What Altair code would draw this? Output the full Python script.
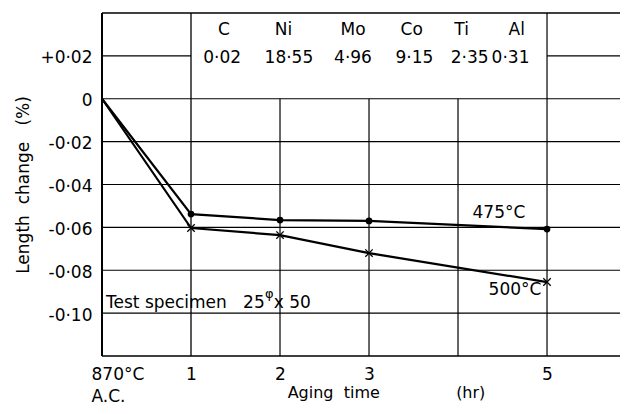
import altair as alt
import pandas as pd

# ---- data ----
times = [0, 1, 2, 3, 5]
len_475 = [0.0, -0.0538, -0.0566, -0.0570, -0.0608]
len_500 = [0.0, -0.0603, -0.0636, -0.0720, -0.0855]
series_names = ["475°C", "500°C"]

elements = ["C", "Ni", "Mo", "Co", "Ti", "Al"]
contents = ["0·02", "18·55", "4·96", "9·15", "2·35", "0·31"]

x_tick_values = [0, 1, 2, 3, 5]
x_tick_labels = ["870°C", "1", "2", "3", "5"]
y_tick_values = [0.02, 0, -0.02, -0.04, -0.06, -0.08, -0.10]
y_tick_labels = ["+0·02", "0", "-0·02", "-0·04", "-0·06", "-0·08", "-0·10"]

# ---- layout ----
FONT = "DejaVu Sans"
XMAX = 5.82
xs = alt.Scale(domain=[0, XMAX], nice=False, zero=False)
ys = alt.Scale(domain=[-0.12, 0.04], nice=False, zero=False)

# tick label expressions built from the lists
y_expr = "''"
for v, t in reversed(list(zip(y_tick_values, y_tick_labels))):
    y_expr = f"abs(datum.value - ({v})) < 1e-9 ? '{t}' : " + y_expr
x_expr = "datum.label"
for v, t in reversed(list(zip(x_tick_values, x_tick_labels))):
    if v == 0:
        x_expr = f"datum.value == {v} ? ['{t}', 'A.C.'] : " + x_expr
    else:
        x_expr = f"datum.value == {v} ? '{t}' : " + x_expr

NB = "\u00a0"
x_axis = alt.Axis(
    values=x_tick_values, labelExpr=x_expr, grid=False, domain=False, ticks=False,
    tickSize=0, labelPadding=10, labelFontSize=17, labelFont=FONT, labelColor="black",
    labelLineHeight=22,
    labelAlign={"condition": {"test": "datum.value == 0", "value": "left"}, "value": "center"},
    labelOffset={"condition": {"test": "datum.value == 0", "value": -11}, "value": 0},
    title=f"Aging{NB*2}time{NB*15}(hr)", titleFont=FONT, titleFontSize=16,
    titleFontWeight="normal", titleColor="black", titleX=284, titleY=41,
    titleBaseline="alphabetic", titleAnchor="start", titleAlign="center",
)
y_axis = alt.Axis(
    values=y_tick_values, labelExpr=y_expr, grid=False, domain=False, ticks=False,
    tickSize=0, labelPadding=10, labelFontSize=17, labelFont=FONT, labelColor="black",
    labelBaseline="middle", labelOffset=2,
    title=f"Length{NB*2}change{NB*3}(%)", titleFont=FONT, titleFontSize=17,
    titleFontWeight="normal", titleColor="black", titlePadding=7,
)

def X(field):
    return alt.X(field, scale=xs, axis=x_axis)

def Y(field):
    return alt.Y(field, scale=ys, axis=y_axis)

# ---- grid / frame segments ----
h_y = [0.04, 0.02, 0.02, 0, -0.02, -0.04, -0.06, -0.08, -0.10, -0.12]
h_x1 = [0, 0, 5, 0, 0, 0, 0, 0, 0, 0]
h_x2 = [XMAX, 1, XMAX, XMAX, XMAX, XMAX, XMAX, XMAX, XMAX, XMAX]
h_w = [1.6, 1.2, 1.2, 1.2, 1.2, 1.2, 1.2, 1.2, 1.2, 1.6]
hdf = pd.DataFrame({"y": h_y, "x1": h_x1, "x2": h_x2, "w": h_w})

v_x = [0, 1, 2, 3, 4, 5]
v_y2 = [0.04, 0.04, 0, 0, 0, 0.04]
v_w = [2.0, 1.3, 1.2, 1.2, 1.2, 1.2]
vdf = pd.DataFrame({"x": v_x, "y1": [-0.12] * 6, "y2": v_y2, "w": v_w})

hrules = alt.Chart(hdf).mark_rule(color="black").encode(
    x=X("x1:Q"), x2="x2:Q", y=Y("y:Q"),
    strokeWidth=alt.StrokeWidth("w:Q", scale=None),
)
vrules = alt.Chart(vdf).mark_rule(color="black").encode(
    x=X("x:Q"), y=Y("y1:Q"), y2="y2:Q",
    strokeWidth=alt.StrokeWidth("w:Q", scale=None),
)

# ---- series ----
sdf = pd.DataFrame({
    "t": times + times,
    "v": len_475 + len_500,
    "s": [series_names[0]] * len(times) + [series_names[1]] * len(times),
})
lines = alt.Chart(sdf).mark_line(color="black", strokeWidth=2.2).encode(
    x=X("t:Q"), y=Y("v:Q"), detail="s:N",
)
pts475 = alt.Chart(sdf).transform_filter(
    f"datum.s == '{series_names[0]}' && datum.t > 0"
).mark_point(shape="circle", filled=True, color="black", size=45, opacity=1).encode(
    x=X("t:Q"), y=Y("v:Q"),
)
pts500 = alt.Chart(sdf).transform_filter(
    f"datum.s == '{series_names[1]}' && datum.t > 0"
).mark_point(shape="M-1,-1L1,1M-1,1L1,-1", filled=False, color="black",
             strokeWidth=1.3, size=55, opacity=1).encode(
    x=X("t:Q"), y=Y("v:Q"),
)

# ---- annotations ----
ann = pd.DataFrame({
    "x": [1.37, 2.04, 2.82, 3.48, 4.04, 4.66] + [1.35, 2.10, 2.82, 3.51, 4.13, 4.59]
         + [4.46, 4.64],
    "y": [0.0321] * 6 + [0.0192] * 6 + [-0.0535, -0.0892],
    "text": elements + contents + series_names,
})
ann_text = alt.Chart(ann).mark_text(
    font=FONT, fontSize=17, color="black", align="center", baseline="middle"
).encode(
    x=X("x:Q"), y=Y("y:Q"), text="text:N",
)

spec = pd.DataFrame({
    "x": [0.045, 1.83, 1.93],
    "y": [-0.0976, -0.0930, -0.0976],
    "text": [f"Test specimen{NB*3}25", "φ", "x 50"],
    "fs": [17, 13, 17],
})
spec_text = alt.Chart(spec).mark_text(
    font=FONT, color="black", align="left", baseline="alphabetic"
).encode(
    x=X("x:Q"), y=Y("y:Q"), text="text:N",
    size=alt.Size("fs:Q", scale=None),
)

chart = alt.layer(hrules, vrules, lines, pts475, pts500, ann_text, spec_text).properties(
    width=518, height=343,
    padding={"left": 94, "top": 5, "right": 0, "bottom": 50},
    autosize="none",
    background="white",
).configure_view(stroke=None)

chart.save("out.html", embed_options={"renderer": "svg", "actions": False})
